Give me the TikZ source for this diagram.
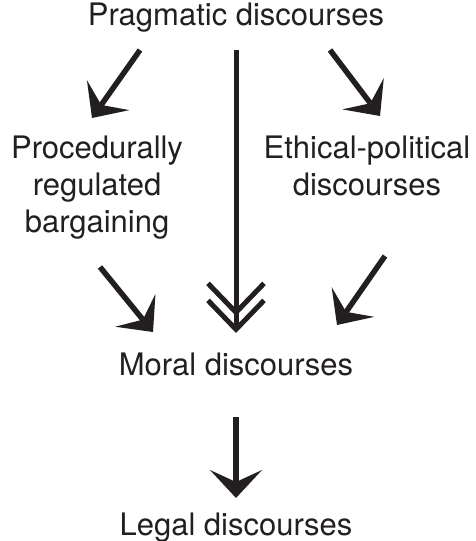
\documentclass[tikz,border=0pt]{standalone}
\usepackage{fontspec}
\setmainfont{TeX Gyre Heros}
\usepackage{xcolor}
\usetikzlibrary{arrows.meta,positioning}
\definecolor{ink}{RGB}{35,31,32}

\begin{document}
\begin{tikzpicture}[
    x=1pt, y=-1pt,
    disc/.style={inner sep=0pt, align=center, text=ink,
        font=\fontsize{31}{37}\selectfont},
    arrow/.style={-{Stealth[length=28pt,width=52pt,inset=12pt,line width=0pt]},
        line width=5.5pt, draw=ink},
    dblarrow/.style={-{Straight Barb[length=29pt,width=56pt]},
        line width=5pt, draw=ink}
]
    \useasboundingbox (0,0) rectangle (475,541);

    % Top: pragmatic discourses
    \node[disc, anchor=base] (prag) at (236,25) {Pragmatic discourses};

    % Middle: the two branches
    \node[disc, below left=111pt and 139pt of prag.base, anchor=north] (proc)
        {Procedurally\\regulated\\bargaining};
    \node[disc, below right=111pt and 131pt of prag.base, anchor=north] (ethic)
        {Ethical-political\\discourses};

    % Bottom: moral and legal
    \node[disc, below=350pt of prag.base, anchor=base] (moral) {Moral discourses};
    \node[disc, below=160pt of moral.base, anchor=base] (legal) {Legal discourses};

    % Arrows
    \draw[arrow] ([shift={(-96,25)}]prag.base) -- ([shift={(-5,-18)}]proc.north);
    \draw[arrow] ([shift={(94,25)}]prag.base) -- ([shift={(13,-20)}]ethic.north);
    \draw[dblarrow] ([shift={(0,25)}]prag.base) -- ([shift={(0,-42)}]moral.base);
    \draw[dblarrow] ([shift={(0,25)}]prag.base) -- ([shift={(0,-59)}]moral.base);
    \draw[arrow] ([shift={(3,131)}]proc.north) -- ([shift={(-83,-43)}]moral.base);
    \draw[arrow] ([shift={(18,120)}]ethic.north) -- ([shift={(101,-50)}]moral.base);
    \draw[arrow] ([shift={(0,42)}]moral.base) -- ([shift={(0,-37)}]legal.base);
\end{tikzpicture}
\end{document}
